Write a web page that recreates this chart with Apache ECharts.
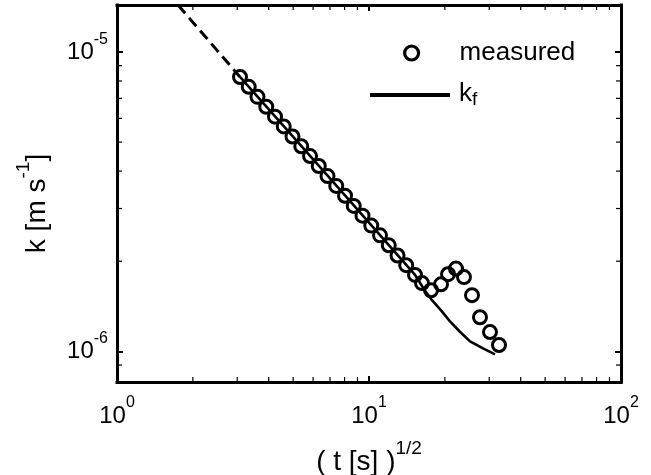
<!DOCTYPE html>
<html><head><meta charset="utf-8">
<script src="https://cdn.jsdelivr.net/npm/echarts@6/dist/echarts.min.js"></script>
<style>html,body{margin:0;padding:0;background:#fff}#c{width:651px;height:475px}</style>
</head><body><div id="c"></div>
<script>
const FONT = '"Liberation Sans", Arial, Helvetica, sans-serif';

// axis ranges
const xRange = [1, 100];
const yRange = [7.9e-7, 1.435e-5];
// minor tick values (log axes, Matlab style)
const xMinorTicks = [2, 3, 4, 5, 6, 7, 8, 9, 20, 30, 40, 50, 60, 70, 80, 90];
const yMinorTicks = [9e-7, 2e-6, 3e-6, 4e-6, 5e-6, 6e-6, 7e-6, 8e-6, 9e-6];

// measured k  vs  (t [s])^(1/2)
const measuredX = [3.077, 3.333, 3.610, 3.911, 4.236, 4.589, 4.971, 5.386, 5.834, 6.319,
  6.845, 7.413, 8.032, 8.699, 9.424, 10.21, 11.06, 11.98, 12.98, 14.05, 15.23,
  16.23, 17.62, 19.31, 20.59, 22.14, 23.82, 25.63, 27.57, 30.21, 32.80];
const measuredK = [8.25e-6, 7.65e-6, 7.08e-6, 6.56e-6, 6.08e-6, 5.64e-6, 5.22e-6, 4.84e-6, 4.49e-6, 4.16e-6,
  3.85e-6, 3.57e-6, 3.31e-6, 3.06e-6, 2.84e-6, 2.63e-6, 2.44e-6, 2.26e-6, 2.09e-6, 1.94e-6, 1.80e-6,
  1.69e-6, 1.60e-6, 1.675e-6, 1.81e-6, 1.89e-6, 1.77e-6, 1.54e-6, 1.30e-6, 1.16e-6, 1.05e-6];

// k_f model
const kfX = [3.077, 6.876, 15.23, 16.53, 17.78, 19.31, 20.96, 22.9, 25.17, 28.35, 31.62];
const kfK = [8.25e-6, 3.85e-6, 1.80e-6, 1.612e-6, 1.482e-6, 1.37e-6, 1.26e-6, 1.165e-6, 1.08e-6, 1.023e-6, 9.77e-7];

// dashed early-time extension
const extrapX = [1.746, 3.077];
const extrapK = [1.435e-5, 8.25e-6];

const zip = (a, b) => a.map((v, i) => [v, b[i]]);

const labelRich = {
  b: { fontSize: 24, fontFamily: FONT, color: '#000', padding: [9, 0, 0, 0] },
  s: { fontSize: 16, fontFamily: FONT, color: '#000', verticalAlign: 'top' }
};
function powLabel(v) {
  const e = Math.log10(v);
  const r = Math.round(e);
  if (Math.abs(e - r) > 1e-6) return '';
  return '{b|10}{s|' + r + '}';
}
const boxLine = { show: true, onZero: false, lineStyle: { color: '#000', width: 3, cap: 'square' } };
const majorTick = { show: true, inside: true, length: 6, lineStyle: { color: '#000', width: 2 } };

function minorRender(dim) {
  return function (params, api) {
    const cs = params.coordSys;
    const p = api.coord([api.value(0), api.value(1)]);
    const L = 5;
    let lines;
    if (dim === 'x') {
      const b = cs.y + cs.height;
      lines = [[p[0], b, p[0], b - L], [p[0], cs.y, p[0], cs.y + L]];
    } else {
      const r = cs.x + cs.width;
      lines = [[cs.x, p[1], cs.x + L, p[1]], [r, p[1], r - L, p[1]]];
    }
    return {
      type: 'group',
      children: lines.map(l => ({
        type: 'line',
        shape: { x1: l[0], y1: l[1], x2: l[2], y2: l[3] },
        style: { stroke: '#000', lineWidth: 1.2 }
      }))
    };
  };
}

const titleRich = {
  a: { fontSize: 28, fontFamily: FONT, color: '#000', padding: [9, 0, 0, 0] },
  s: { fontSize: 19, fontFamily: FONT, color: '#000', verticalAlign: 'top' }
};

const chart = echarts.init(document.getElementById('c'), null, { renderer: 'canvas' });
chart.setOption({
  animation: false,
  backgroundColor: '#fff',
  grid: { left: 117, right: 30, top: 5, bottom: 93, containLabel: false, outerBoundsMode: 'none' },
  xAxis: [
    {
      type: 'log', logBase: 10, min: xRange[0], max: xRange[1], position: 'bottom',
      axisLine: boxLine, axisTick: majorTick, splitLine: { show: false }, minorTick: { show: false },
      axisLabel: { formatter: powLabel, rich: labelRich, margin: 13, color: '#000' },
      name: '{a|( t [s] )}{s|1/2}', nameLocation: 'middle', nameGap: 57,
      nameTextStyle: { color: '#000', rich: titleRich }
    },
    {
      type: 'log', logBase: 10, min: xRange[0], max: xRange[1], position: 'top',
      axisLine: boxLine, axisTick: majorTick, splitLine: { show: false },
      axisLabel: { show: false }
    }
  ],
  yAxis: [
    {
      type: 'log', logBase: 10, min: yRange[0], max: yRange[1], position: 'left',
      axisLine: boxLine, axisTick: majorTick, splitLine: { show: false }, minorTick: { show: false },
      axisLabel: { formatter: powLabel, rich: labelRich, margin: 9, color: '#000', padding: [0, 0, 8, 0] },
      name: '{a|k [m s}{s|-1}{a|]}', nameLocation: 'middle', nameGap: 66, nameRotate: 90,
      nameTextStyle: { color: '#000', rich: titleRich, padding: [0, 20, 0, 0] }
    },
    {
      type: 'log', logBase: 10, min: yRange[0], max: yRange[1], position: 'right',
      axisLine: boxLine, axisTick: majorTick, splitLine: { show: false },
      axisLabel: { show: false }
    }
  ],
  legend: [
    {
      data: ['measured'], left: 403, top: 40, padding: 0, selectedMode: false,
      itemWidth: 14, itemHeight: 14,
      itemStyle: { color: 'rgba(0,0,0,0)', borderColor: '#000', borderWidth: 3.2 },
      textStyle: { fontSize: 26, fontFamily: FONT, color: '#000', padding: [0, 0, 0, 36] }
    },
    {
      data: [{ name: 'kf', icon: 'rect' }], left: 370, top: 75, padding: 0, selectedMode: false,
      itemWidth: 80, itemHeight: 4,
      itemStyle: { color: '#000', borderWidth: 0 },
      formatter: () => '{a|k}{s|f}',
      textStyle: {
        color: '#000', padding: [0, 0, 0, 4],
        rich: {
          a: { fontSize: 26, fontFamily: FONT, color: '#000', verticalAlign: 'top', lineHeight: 28 },
          s: { fontSize: 19, fontFamily: FONT, color: '#000', verticalAlign: 'bottom', lineHeight: 19, padding: [15, 0, 0, 0] }
        }
      }
    }
  ],
  series: [
    {
      name: 'extrap', type: 'line', data: zip(extrapX, extrapK), symbol: 'none',
      lineStyle: { color: '#000', width: 3, type: [11, 6] }, clip: true, z: 3
    },
    {
      name: 'kf', type: 'line', data: zip(kfX, kfK), symbol: 'none', smooth: false,
      lineStyle: { color: '#000', width: 2.6 }, clip: true, z: 3
    },
    {
      name: 'measured', type: 'scatter', data: zip(measuredX, measuredK),
      symbol: 'circle', symbolSize: 13,
      itemStyle: { color: 'rgba(0,0,0,0)', borderColor: '#000', borderWidth: 3, opacity: 1 },
      z: 4
    },
    {
      type: 'custom', silent: true, data: xMinorTicks.map(v => [v, 1e-6]),
      renderItem: minorRender('x'), z: 6
    },
    {
      type: 'custom', silent: true, data: yMinorTicks.map(v => [2, v]),
      renderItem: minorRender('y'), z: 6
    }
  ]
});
</script></body></html>
